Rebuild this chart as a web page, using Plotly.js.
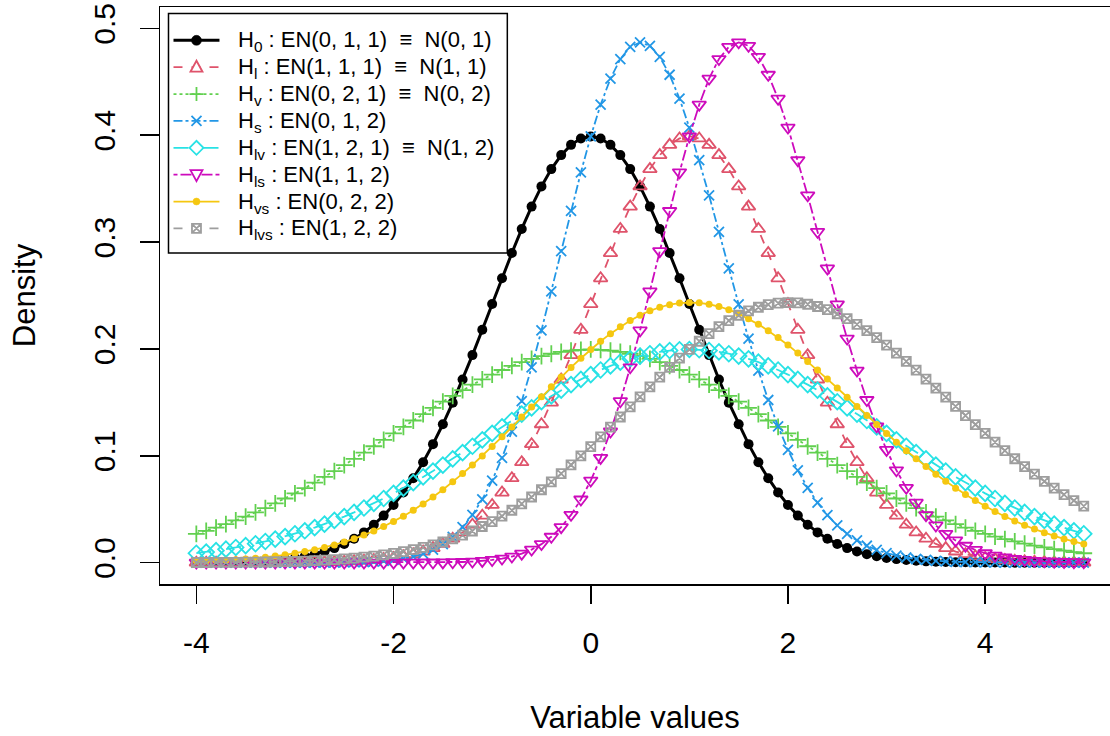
<!DOCTYPE html>
<html>
<head>
<meta charset="utf-8">
<script src="https://cdn.plot.ly/plotly-3.0.1.min.js"></script>
<style>html,body{margin:0;padding:0;background:#fff;}#chart{width:1110px;height:736px;}</style>
</head>
<body>
<div id="chart"></div>
<script>
// x grid of the curves
const xValues = [-4,-3.9,-3.8,-3.7,-3.6,-3.5,-3.4,-3.3,-3.2,-3.1,-3,-2.9,-2.8,-2.7,-2.6,-2.5,-2.4,-2.3,-2.2,-2.1,-2,-1.9,-1.8,-1.7,-1.6,-1.5,-1.4,-1.3,-1.2,-1.1,-1,-0.9,-0.8,-0.7,-0.6,-0.5,-0.4,-0.3,-0.2,-0.1,0,0.1,0.2,0.3,0.4,0.5,0.6,0.7,0.8,0.9,1,1.1,1.2,1.3,1.4,1.5,1.6,1.7,1.8,1.9,2,2.1,2.2,2.3,2.4,2.5,2.6,2.7,2.8,2.9,3,3.1,3.2,3.3,3.4,3.5,3.6,3.7,3.8,3.9,4,4.1,4.2,4.3,4.4,4.5,4.6,4.7,4.8,4.9,5];

// H0 : EN(0,1,1) = N(0,1)
const h0 = [0.0001,0.0002,0.0003,0.0004,0.0006,0.0009,0.0012,0.0017,0.0024,0.0033,
0.0044,0.0060,0.0079,0.0104,0.0136,0.0175,0.0224,0.0283,0.0355,0.0440,
0.0540,0.0656,0.0790,0.0940,0.1109,0.1295,0.1497,0.1714,0.1942,0.2179,
0.2420,0.2661,0.2897,0.3123,0.3332,0.3521,0.3683,0.3814,0.3910,0.3970,
0.3989,
0.3970,0.3910,0.3814,0.3683,0.3521,0.3332,0.3123,0.2897,0.2661,0.2420,
0.2179,0.1942,0.1714,0.1497,0.1295,0.1109,0.0940,0.0790,0.0656,0.0540,
0.0440,0.0355,0.0283,0.0224,0.0175,0.0136,0.0104,0.0079,0.0060,0.0044,
0.0033,0.0024,0.0017,0.0012,0.0009,0.0006,0.0004,0.0003,0.0002,0.0001,
0.0001,0.0001,0,0,0,0,0,0,0,0];

// Hl : EN(1,1,1) = N(1,1)
const hl = [0,0,0,0,0,0,0,0,0.0001,0.0001,
0.0001,0.0002,0.0003,0.0004,0.0006,0.0009,0.0012,0.0017,0.0024,0.0033,
0.0044,0.0060,0.0079,0.0104,0.0136,0.0175,0.0224,0.0283,0.0355,0.0440,
0.0540,0.0656,0.0790,0.0940,0.1109,0.1295,0.1497,0.1714,0.1942,0.2179,
0.2420,0.2661,0.2897,0.3123,0.3332,0.3521,0.3683,0.3814,0.3910,0.3970,
0.3989,
0.3970,0.3910,0.3814,0.3683,0.3521,0.3332,0.3123,0.2897,0.2661,0.2420,
0.2179,0.1942,0.1714,0.1497,0.1295,0.1109,0.0940,0.0790,0.0656,0.0540,
0.0440,0.0355,0.0283,0.0224,0.0175,0.0136,0.0104,0.0079,0.0060,0.0044,
0.0033,0.0024,0.0017,0.0012,0.0009,0.0006,0.0004,0.0003,0.0002,0.0001];

// Hv : EN(0,2,1) = N(0,2)
const hv = [0.0270,0.0298,0.0328,0.0360,0.0395,0.0431,0.0470,0.0511,0.0555,0.0600,
0.0648,0.0697,0.0749,0.0802,0.0857,0.0913,0.0971,0.1030,0.1089,0.1149,
0.1210,0.1270,0.1330,0.1390,0.1448,0.1506,0.1561,0.1615,0.1666,0.1715,
0.1760,0.1803,0.1841,0.1876,0.1907,0.1933,0.1955,0.1972,0.1985,0.1992,
0.1995,
0.1992,0.1985,0.1972,0.1955,0.1933,0.1907,0.1876,0.1841,0.1803,0.1760,
0.1715,0.1666,0.1615,0.1561,0.1506,0.1448,0.1390,0.1330,0.1270,0.1210,
0.1149,0.1089,0.1030,0.0971,0.0913,0.0857,0.0802,0.0749,0.0697,0.0648,
0.0600,0.0555,0.0511,0.0470,0.0431,0.0395,0.0360,0.0328,0.0298,0.0270,
0.0244,0.0220,0.0198,0.0177,0.0159,0.0142,0.0126,0.0112,0.0099,0.0088];

// Hs : EN(0,1,2)
const hs = [0,0,0,0,0,0,0,0,0,0,0,0,
0.0000,0.0001,0.0001,0.0002,0.0004,0.0006,0.0010,0.0016,0.0025,0.0038,
0.0057,0.0084,0.0122,0.0173,0.0242,0.0332,0.0447,0.0591,0.0768,0.0980,
0.1227,0.1511,0.1828,0.2173,0.2538,0.2915,0.3291,0.3653,
0.3989,
0.4286,0.4530,0.4713,0.4827,0.4869,0.4837,0.4734,0.4566,0.4342,0.4072,
0.3766,0.3437,0.3096,0.2753,0.2417,0.2097,0.1797,0.1522,0.1275,0.1055,
0.0864,0.0700,0.0561,0.0444,0.0348,0.0270,0.0208,0.0158,0.0119,0.0088,
0.0065,0.0048,0.0034,0.0025,0.0017,0.0012,0.0008,0.0006,0.0004,0.0003,
0.0002,0.0001,0.0001,0,
0,0,0,0,0,0];

// Hlv : EN(1,2,1) = N(1,2)
const hlv = [0.0088,0.0099,0.0112,0.0126,0.0142,0.0159,0.0177,0.0198,0.0220,0.0244,
0.0270,0.0298,0.0328,0.0360,0.0395,0.0431,0.0470,0.0511,0.0555,0.0600,
0.0648,0.0697,0.0749,0.0802,0.0857,0.0913,0.0971,0.1030,0.1089,0.1149,
0.1210,0.1270,0.1330,0.1390,0.1448,0.1506,0.1561,0.1615,0.1666,0.1715,
0.1760,0.1803,0.1841,0.1876,0.1907,0.1933,0.1955,0.1972,0.1985,0.1992,
0.1995,
0.1992,0.1985,0.1972,0.1955,0.1933,0.1907,0.1876,0.1841,0.1803,0.1760,
0.1715,0.1666,0.1615,0.1561,0.1506,0.1448,0.1390,0.1330,0.1270,0.1210,
0.1149,0.1089,0.1030,0.0971,0.0913,0.0857,0.0802,0.0749,0.0697,0.0648,
0.0600,0.0555,0.0511,0.0470,0.0431,0.0395,0.0360,0.0328,0.0298,0.0270];

// Hls : EN(1,1,2)
const hls = [0,0,0,0,0,0,0,0,0,0,0,0,0,0,0,0,0,0,0,0,0,0,
0.0000,0.0001,0.0001,0.0002,0.0004,0.0006,0.0010,0.0016,0.0025,0.0038,
0.0057,0.0084,0.0122,0.0173,0.0242,0.0332,0.0447,0.0591,0.0768,0.0980,
0.1227,0.1511,0.1828,0.2173,0.2538,0.2915,0.3291,0.3653,
0.3989,
0.4286,0.4530,0.4713,0.4827,0.4869,0.4837,0.4734,0.4566,0.4342,0.4072,
0.3766,0.3437,0.3096,0.2753,0.2417,0.2097,0.1797,0.1522,0.1275,0.1055,
0.0864,0.0700,0.0561,0.0444,0.0348,0.0270,0.0208,0.0158,0.0119,0.0088,
0.0065,0.0048,0.0034,0.0025,0.0017,0.0012,0.0008,0.0006,0.0004,0.0003];

// Hvs : EN(0,2,2)
const hvs = [0.0012,0.0015,0.0019,0.0023,0.0028,0.0035,0.0042,0.0051,0.0061,0.0073,
0.0087,0.0103,0.0121,0.0142,0.0166,0.0193,0.0223,0.0258,0.0296,0.0338,
0.0384,0.0435,0.0490,0.0549,0.0614,0.0682,0.0756,0.0833,0.0914,0.0999,
0.1086,0.1177,0.1269,0.1363,0.1457,0.1552,0.1645,0.1737,0.1827,0.1913,
0.1995,
0.2072,0.2143,0.2208,0.2265,0.2315,0.2357,0.2390,0.2414,0.2429,0.2434,
0.2431,0.2418,0.2397,0.2367,0.2329,0.2283,0.2230,0.2171,0.2106,0.2036,
0.1961,0.1883,0.1802,0.1718,0.1634,0.1548,0.1462,0.1376,0.1292,0.1209,
0.1127,0.1048,0.0972,0.0899,0.0828,0.0761,0.0697,0.0637,0.0581,0.0528,
0.0478,0.0432,0.0389,0.0350,0.0314,0.0280,0.0250,0.0222,0.0197,0.0174];

// Hlvs : EN(1,2,2)
const hlvs = [0.0001,0.0001,0.0002,0.0002,0.0003,0.0004,0.0005,0.0006,0.0008,0.0010,
0.0012,0.0015,0.0019,0.0023,0.0028,0.0035,0.0042,0.0051,0.0061,0.0073,
0.0087,0.0103,0.0121,0.0142,0.0166,0.0193,0.0223,0.0258,0.0296,0.0338,
0.0384,0.0435,0.0490,0.0549,0.0614,0.0682,0.0756,0.0833,0.0914,0.0999,
0.1086,0.1177,0.1269,0.1363,0.1457,0.1552,0.1645,0.1737,0.1827,0.1913,
0.1995,
0.2072,0.2143,0.2208,0.2265,0.2315,0.2357,0.2390,0.2414,0.2429,0.2434,
0.2431,0.2418,0.2397,0.2367,0.2329,0.2283,0.2230,0.2171,0.2106,0.2036,
0.1961,0.1883,0.1802,0.1718,0.1634,0.1548,0.1462,0.1376,0.1292,0.1209,
0.1127,0.1048,0.0972,0.0899,0.0828,0.0761,0.0697,0.0637,0.0581,0.0528];

const seriesNames = [
  "H<sub>0</sub> : EN(0, 1, 1)  \u2261  N(0, 1)",
  "H<sub>l</sub> : EN(1, 1, 1)  \u2261  N(1, 1)",
  "H<sub>v</sub> : EN(0, 2, 1)  \u2261  N(0, 2)",
  "H<sub>s</sub> : EN(0, 1, 2)",
  "H<sub>lv</sub> : EN(1, 2, 1)  \u2261  N(1, 2)",
  "H<sub>ls</sub> : EN(1, 1, 2)",
  "H<sub>vs</sub> : EN(0, 2, 2)",
  "H<sub>lvs</sub> : EN(1, 2, 2)"
];
const xTickValues = [-4, -2, 0, 2, 4];
const xTickLabels = ["-4", "-2", "0", "2", "4"];
const yTickValues = [0, 0.1, 0.2, 0.3, 0.4, 0.5];
const yTickLabels = ["0.0", "0.1", "0.2", "0.3", "0.4", "0.5"];

const seriesValues = [h0, hl, hv, hs, hlv, hls, hvs, hlvs];
const styles = [
  {color: "#000000", dash: "solid",   width: 3,   symbol: "circle",             size: 10, mlw: 0},
  {color: "#DF536B", dash: "dash",    width: 1.8, symbol: "triangle-up-open",   size: 12, mlw: 1.8},
  {color: "#61D04F", dash: "dot",     width: 1.8, symbol: "cross-thin-open",    size: 12, mlw: 1.8},
  {color: "#2297E6", dash: "dashdot", width: 1.8, symbol: "x-thin-open",        size: 10, mlw: 1.8},
  {color: "#28E2E5", dash: "longdash",width: 1.8, symbol: "diamond-open",       size: 12, mlw: 1.8},
  {color: "#CD0BBC", dash: "4px,3px,11px,3px", width: 1.8, symbol: "triangle-down-open", size: 12, mlw: 1.8},
  {color: "#F5C710", dash: "solid",   width: 1.8, symbol: "circle",             size: 7,  mlw: 0},
  {color: "#9E9E9E", dash: "dash",    width: 1.8, symbol: "square-x-open",      size: 9,  mlw: 1.8}
];

const traces = seriesValues.map((ys, i) => ({
  type: "scatter",
  mode: "lines+markers",
  x: xValues,
  y: ys,
  name: seriesNames[i],
  showlegend: false,
  line: {color: styles[i].color, width: styles[i].width, dash: styles[i].dash},
  marker: {color: styles[i].color, symbol: styles[i].symbol, size: styles[i].size,
           line: {color: styles[i].color, width: styles[i].mlw}}
}));

// ---- custom legend (R-style box) ----
const M = {l: 159.5, r: 0, t: 6.6, b: 151.6};
const W = 1110 - M.l - M.r, H = 736 - M.t - M.b;
const px2x = p => (p - M.l) / W;
const py2y = p => (736 - M.b - p) / H;

const shapes = [];
const annotations = [];
shapes.push({type: "rect", xref: "paper", yref: "paper", layer: "above",
  x0: px2x(168), x1: px2x(507), y0: py2y(253), y1: py2y(13),
  line: {color: "#000", width: 1.5}, fillcolor: "#ffffff"});

const markerPaths = {
  "triangle-up-open":   "M-6,-4.5 L6,-4.5 L0,6.5 Z",
  "triangle-down-open": "M-6,4.5 L6,4.5 L0,-6.5 Z",
  "cross-thin-open":    "M-7,0 L7,0 M0,-7 L0,7",
  "x-thin-open":        "M-5,-5 L5,5 M-5,5 L5,-5",
  "diamond-open":       "M-7,0 L0,7 L7,0 L0,-7 Z",
  "square-x-open":      "M-4.5,-4.5 L4.5,-4.5 L4.5,4.5 L-4.5,4.5 Z M-4.5,-4.5 L4.5,4.5 M-4.5,4.5 L4.5,-4.5"
};

seriesNames.forEach((nm, i) => {
  const cy = 40 + 26.9 * i;
  const st = styles[i];
  shapes.push({type: "line", xref: "paper", yref: "paper", layer: "above",
    x0: px2x(173), x1: px2x(219), y0: py2y(cy), y1: py2y(cy),
    line: {color: st.color, width: st.width, dash: st.dash}});
  const base = {xref: "paper", yref: "paper", layer: "above",
    xsizemode: "pixel", ysizemode: "pixel", xanchor: px2x(196), yanchor: py2y(cy)};
  if (st.symbol === "circle") {
    const r = st.size / 2;
    shapes.push(Object.assign({}, base, {type: "circle", x0: -r, x1: r, y0: -r, y1: r,
      fillcolor: st.color, line: {color: st.color, width: 0.5}}));
  } else {
    shapes.push(Object.assign({}, base, {type: "path", path: markerPaths[st.symbol],
      fillcolor: "rgba(255,255,255,1)", line: {color: st.color, width: 1.8}}));
  }
  annotations.push({xref: "paper", yref: "paper", x: px2x(236), y: py2y(cy + 1),
    xanchor: "left", yanchor: "middle", showarrow: false, align: "left",
    text: nm, font: {family: "Liberation Sans, Arial, sans-serif", size: 22, color: "#000"}});
});

const font = "Liberation Sans, Arial, sans-serif";
const layout = {
  width: 1110, height: 736,
  margin: M,
  paper_bgcolor: "#ffffff", plot_bgcolor: "#ffffff",
  font: {family: font, size: 30, color: "#000"},
  showlegend: false,
  shapes: shapes,
  annotations: annotations,
  xaxis: {
    range: [-4.3685, 5.266], autorange: false,
    tickmode: "array", tickvals: xTickValues, ticktext: xTickLabels,
    ticks: "outside", ticklen: 18, tickwidth: 1.5, tickcolor: "#000",
    ticklabelstandoff: 13,
    showline: true, mirror: true, linecolor: "#000", linewidth: 1.5,
    showgrid: false, zeroline: false,
    tickfont: {family: font, size: 30},
    title: {text: "Variable values", font: {family: font, size: 31}, standoff: 49}
  },
  yaxis: {
    range: [-0.02, 0.52], autorange: false,
    tickmode: "array", tickvals: yTickValues, ticktext: yTickLabels,
    ticks: "outside", ticklen: 19, tickwidth: 1.5, tickcolor: "#000",
    tickangle: -90, ticklabelstandoff: 13,
    showline: true, mirror: false, linecolor: "#000", linewidth: 1.5,
    showgrid: false, zeroline: false,
    tickfont: {family: font, size: 30},
    title: {text: "Density", font: {family: font, size: 31}, standoff: 42}
  }
};

Plotly.newPlot("chart", traces, layout, {displayModeBar: false, staticPlot: true});
</script>
</body>
</html>
